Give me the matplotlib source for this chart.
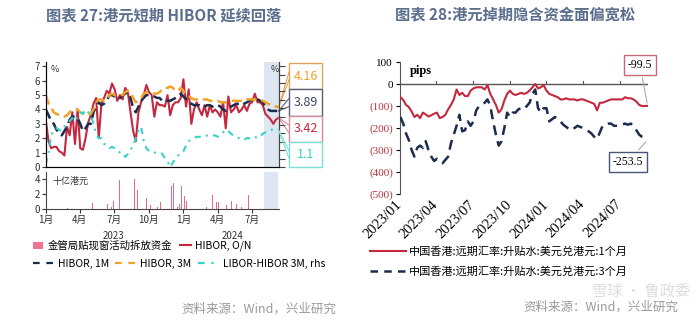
import numpy as np
import pandas as pd
import matplotlib
matplotlib.use('Agg')
import matplotlib.pyplot as plt
from matplotlib.patches import Rectangle
from matplotlib.lines import Line2D

plt.rcParams['font.family'] = ['Noto Sans CJK SC', 'DejaVu Sans']

# ---- 图表27 数据 (周度, 2023-01-02 起) ----
hibor_on = [3.2, 1.8, 1.3, 1.4, 1.4, 1.1, 1.0, 0.8, 2.8, 2.2,
            3.8, 1.6, 4.0, 1.3, 1.2, 2.0, 3.1, 3.6, 4.4, 4.8,
            2.0, 4.4, 4.8, 5.3, 5.1, 5.8, 5.4, 4.6, 5.0, 4.7,
            5.5, 5.2, 3.8, 2.5, 1.8, 3.8, 4.5, 5.0, 5.7, 5.2,
            5.0, 3.5, 4.5, 4.3, 4.3, 4.2, 5.0, 3.6, 4.3, 4.5,
            4.5, 4.8, 6.1, 4.2, 5.4, 3.0, 4.0, 4.5, 4.0, 3.6,
            4.3, 3.5, 4.3, 3.8, 4.0, 3.8, 3.5, 4.5, 2.7, 4.9,
            3.8, 4.0, 4.3, 3.8, 4.0, 4.3, 3.9, 4.4, 4.5, 5.1,
            4.5, 4.5, 4.3, 3.7, 3.5, 3.3, 3.0, 3.3, 3.42]
hibor_1m = [4.0, 3.6, 3.2, 3.0, 2.6, 2.3, 2.2, 2.5, 2.8, 3.3,
            3.5, 3.5, 3.4, 3.0, 2.5, 2.7, 3.0, 3.0, 3.8, 4.2,
            4.5, 4.3, 4.4, 4.6, 5.0, 5.0, 4.9, 4.9, 4.8, 5.0,
            5.1, 5.2, 4.8, 4.1, 3.8, 4.2, 4.6, 4.8, 5.0, 5.0,
            4.9, 4.9, 4.8, 4.8, 4.6, 4.6, 4.6, 4.6, 4.7, 4.8,
            4.9, 5.1, 4.9, 4.7, 4.5, 4.4, 4.3, 4.3, 4.3, 4.2,
            4.2, 4.3, 4.3, 4.2, 4.3, 4.3, 4.2, 4.0, 3.9, 4.1,
            4.2, 4.3, 4.4, 4.4, 4.3, 4.4, 4.5, 4.6, 4.7, 4.7,
            4.7, 4.6, 4.5, 4.2, 4.0, 3.9, 3.9, 3.9, 3.89]
hibor_3m = [5.0, 4.4, 4.1, 3.8, 3.7, 3.6, 3.5, 3.5, 3.6, 3.8,
            4.0, 4.0, 4.0, 3.8, 3.7, 3.6, 3.6, 3.7, 4.0, 4.5,
            4.7, 4.7, 4.6, 4.7, 5.0, 5.1, 5.0, 5.0, 5.0, 5.0,
            5.2, 5.3, 5.2, 4.8, 4.5, 4.6, 4.8, 5.1, 5.2, 5.2,
            5.2, 5.1, 5.1, 5.2, 5.4, 5.5, 5.5, 5.6, 5.5, 5.3,
            5.3, 5.5, 5.3, 5.0, 4.9, 4.8, 4.7, 4.7, 4.7, 4.7,
            4.7, 4.7, 4.6, 4.6, 4.6, 4.6, 4.5, 4.5, 4.5, 4.5,
            4.6, 4.6, 4.6, 4.6, 4.6, 4.6, 4.7, 4.7, 4.7, 4.7,
            4.7, 4.7, 4.6, 4.5, 4.4, 4.3, 4.3, 4.2, 4.16]
libor_hibor = [0.09, 0.43, 0.94, 1.11, 1.16, 1.11, 1.07, 1.20, 1.29, 1.37,
               1.46, 1.37, 1.50, 1.63, 1.59, 1.71, 1.63, 1.54, 1.29, 0.99,
               0.86, 0.86, 0.69, 0.64, 0.56, 0.60, 0.56, 0.51, 0.43, 0.43,
               0.30, 0.39, 0.51, 0.64, 0.86, 1.07, 1.20, 0.77, 0.56, 0.47,
               0.47, 0.43, 0.43, 0.43, 0.39, 0.26, 0.17, 0.00, 0.13, 0.26,
               0.34, 0.43, 0.47, 0.64, 0.77, 0.81, 0.86, 0.90, 0.90, 0.90,
               0.90, 0.94, 0.94, 0.94, 0.94, 0.90, 0.94, 1.03, 1.11, 1.07,
               0.99, 0.94, 0.90, 0.86, 0.86, 0.81, 0.86, 0.86, 0.86, 0.90,
               0.86, 0.90, 0.99, 1.03, 1.07, 1.11, 1.11, 1.09, 1.10]
weeks = pd.date_range('2023-01-02', periods=len(hibor_on), freq='7D')

# 金管局贴现窗拆放资金 (十亿港元)
dw_dates = pd.to_datetime([
    '2023-02-16', '2023-03-01', '2023-04-26', '2023-05-06', '2023-05-28',
    '2023-06-14', '2023-06-24', '2023-06-30', '2023-07-04', '2023-07-16',
    '2023-07-28', '2023-08-24', '2023-09-02', '2023-09-25', '2023-10-05',
    '2023-10-25', '2023-11-01', '2023-11-21', '2023-11-30', '2023-12-06',
    '2023-12-16', '2023-12-22', '2023-12-27', '2024-01-03', '2024-01-10',
    '2024-01-29', '2024-03-02', '2024-03-18', '2024-03-29', '2024-04-03',
    '2024-04-25', '2024-05-08', '2024-05-14', '2024-05-21', '2024-05-27',
    '2024-06-02', '2024-06-22', '2024-07-03', '2024-07-22'])
dw_vals = [0.1, 0.1, 0.6, 0.8, 3.8, 0.6, 0.3, 1.0, 3.2, 3.9,
           0.8, 4.0, 2.5, 1.4, 0.5, 0.2, 0.9, 0.9, 3.0, 3.5,
           0.3, 0.7, 3.0, 1.7, 1.0, 2.1, 0.3, 1.9, 0.9, 0.9,
           0.5, 1.0, 1.0, 0.7, 0.7, 0.3, 1.9, 0.8, 1.8]

# ---- 图表28 数据 (pips) ----
swap_1m = [-60, -72, -95, -105, -125, -150, -140, -155, -130, -138,
           -148, -142, -135, -130, -155, -150, -140, -115, -95, -70,
           -25, -50, -40, -55, -55, -30, -20, -15, -15, -15,
           -25, -5, -45, -70, -95, -130, -115, -75, -45, -30,
           -45, -50, -45, -40, -45, -40, -30, -15, 0, -20,
           -15, -5, -30, -45, -50, -55, -60, -70, -70, -65,
           -70, -70, -70, -75, -70, -70, -75, -80, -85, -90,
           -120, -85, -85, -80, -75, -70, -70, -70, -70, -70,
           -60, -65, -65, -70, -80, -95, -100, -100, -99.5]
swap_3m = [-150, -180, -225, -255, -300, -330, -290, -280, -290, -260,
           -300, -330, -350, -340, -350, -360, -345, -330, -270, -230,
           -190, -140, -215, -210, -170, -190, -170, -120, -100, -95,
           -85, -70, -100, -170, -230, -280, -260, -200, -130, -150,
           -130, -130, -115, -110, -115, -100, -85, -45, -25, -110,
           -130, -110, -110, -170, -160, -150, -160, -170, -185, -195,
           -205, -210, -200, -190, -195, -200, -205, -215, -225, -240,
           -250, -220, -190, -185, -180, -180, -190, -190, -190, -185,
           -180, -185, -180, -190, -210, -230, -240, -245, -253.5]

quarter_ticks = pd.to_datetime(['2023-01-01', '2023-04-01', '2023-07-01', '2023-10-01',
                                '2024-01-01', '2024-04-01', '2024-07-01'])
month_labels = ['1月', '4月', '7月', '10月', '1月', '4月', '7月']
swap_labels = ['2023/01', '2023/04', '2023/07', '2023/10', '2024/01', '2024/04', '2024/07']

c_on, c_1m, c_3m, c_lh = '#c4283f', '#1c2b4e', '#f2a227', '#33d3c9'
c_bar = '#e8698a'
shade = '#dde6f1'
xmin, xmax = pd.Timestamp('2023-01-01'), pd.Timestamp('2024-09-10')

fig = plt.figure(figsize=(7, 3.26), dpi=100)
W, H = 700, 326

def ax_rect(x0, y0, x1, y1):
    return [x0 / W, 1 - y1 / H, (x1 - x0) / W, (y1 - y0) / H]

# 标题
title_c = '#5b6e8d'
fig.text(164 / W, 1 - 15 / H, '图表 27:港元短期 HIBOR 延续回落', ha='center', va='center',
         fontsize=11, color=title_c, fontweight='bold')
fig.text(515 / W, 1 - 15 / H, '图表 28:港元掉期隐含资金面偏宽松', ha='center', va='center',
         fontsize=11, color=title_c, fontweight='bold')

# ---- 左上: HIBOR ----
ax1 = fig.add_axes(ax_rect(45.5, 62, 279, 167))
ax1.axvspan(pd.Timestamp('2024-08-01'), xmax, color=shade, zorder=0, lw=0)
ax1.plot(weeks, hibor_on, color=c_on, lw=1.5, zorder=3)
ax1.plot(weeks, hibor_1m, color=c_1m, lw=1.8, dashes=(4, 2), zorder=4)
ax1.plot(weeks, hibor_3m, color=c_3m, lw=1.8, dashes=(4, 2), zorder=4)
ax1.set_ylim(0, 7.3)
ax1.set_yticks(range(0, 8))
ax1.set_xlim(xmin, xmax)
ax1.set_xticks(quarter_ticks)
ax1.tick_params(axis='x', length=0, labelbottom=False)
ax1.tick_params(axis='y', labelsize=7, length=3, pad=1, colors='#333333')
ax1.spines['top'].set_visible(False)
for s in ['left', 'bottom', 'right']:
    ax1.spines[s].set_color('#444444')
ax1.text(0.02, 0.97, '%', transform=ax1.transAxes, fontsize=6.5, va='top', color='#333333')
ax1.text(0.965, 0.97, '%', transform=ax1.transAxes, fontsize=6.5, va='top', color='#333333')

axr = ax1.twinx()
axr.plot(weeks, libor_hibor, color=c_lh, lw=1.5, dashes=(3, 2.5, 1, 2.5), zorder=2)
axr.set_ylim(0, 3 * 7.3 / 7)
axr.set_yticks(np.arange(0, 3.01, 0.25))
axr.set_yticklabels([])
axr.tick_params(axis='y', length=4, color='#444444')
axr.spines['top'].set_visible(False)
axr.spines['right'].set_color('#444444')

# 右侧数值框
boxes = [('4.16', c_3m, '#e0a35a', 63, 26, ax1, hibor_3m[-1]),
         ('3.89', '#3b4662', '#5a6078', 89, 27, ax1, hibor_1m[-1]),
         ('3.42', c_on, '#d98a98', 116, 26, ax1, hibor_on[-1]),
         ('1.1', c_lh, '#7fe0d8', 142, 25, axr, libor_hibor[-1])]
for txt, col, edge, top, h, a, yd in boxes:
    fig.add_artist(Rectangle((289 / W, 1 - (top + h) / H), 33 / W, h / H,
                             transform=fig.transFigure, facecolor='white', edgecolor=edge, lw=1))
    fig.text(305.5 / W, 1 - (top + h / 2) / H, txt, ha='center', va='center', fontsize=9, color=col)
    for frac in (0.35, 0.65):
        a.annotate('', xy=(weeks[-1], yd), xytext=(289, H - (top + h * frac)), textcoords='figure pixels',
                   arrowprops=dict(arrowstyle='-', color=edge, lw=0.8, shrinkA=0, shrinkB=0),
                   annotation_clip=False)

# ---- 左下: 贴现窗 ----
ax2 = fig.add_axes(ax_rect(45.5, 172, 279, 209))
ax2.axvspan(pd.Timestamp('2024-08-01'), pd.Timestamp('2024-09-08'), color=shade, zorder=0, lw=0)
ax2.bar(dw_dates, dw_vals, width=2.0, color=c_bar, zorder=2)
ax2.set_ylim(0, 4.9)
ax2.set_yticks([0, 2, 4])
ax2.set_xlim(xmin, xmax)
ax2.set_xticks(quarter_ticks)
ax2.set_xticklabels(month_labels)
ax2.tick_params(axis='x', labelsize=7, length=3, pad=1, colors='#333333')
ax2.tick_params(axis='y', labelsize=7, length=3, pad=1, colors='#333333')
ax2.spines['top'].set_visible(False)
ax2.spines['right'].set_visible(False)
for s in ['left', 'bottom']:
    ax2.spines[s].set_color('#444444')
ax2.text(0.03, 0.88, '十亿港元', transform=ax2.transAxes, fontsize=6.5, va='top', color='#333333')
ytrans = ax2.get_xaxis_transform()
ax2.text(pd.Timestamp('2023-07-01'), -0.72, '2023', transform=ytrans, ha='center', va='center',
         fontsize=7, color='#333333')
ax2.text(pd.Timestamp('2024-05-10'), -0.72, '2024', transform=ytrans, ha='center', va='center',
         fontsize=7, color='#333333')

# 左图图例
h_bar = Rectangle((0, 0), 1, 1, facecolor='#f07592', edgecolor='none')
h_on = Line2D([], [], color=c_on, lw=1.5)
fig.legend([h_bar, h_on], ['金管局贴现窗活动拆放资金', 'HIBOR, O/N'], ncol=2,
           loc='center left', bbox_to_anchor=(33 / W, 1 - 246 / H), frameon=False,
           fontsize=7.5, handlelength=1.0, handletextpad=0.4, columnspacing=0.8,
           borderaxespad=0, borderpad=0)
h_1m = Line2D([], [], color=c_1m, lw=1.6, dashes=(3, 3))
h_3m = Line2D([], [], color=c_3m, lw=1.6, dashes=(3, 3))
h_lh = Line2D([], [], color=c_lh, lw=1.6, dashes=(3, 3, 1, 3))
fig.legend([h_1m, h_3m, h_lh], ['HIBOR, 1M', 'HIBOR, 3M', 'LIBOR-HIBOR 3M, rhs'], ncol=3,
           loc='center left', bbox_to_anchor=(33 / W, 1 - 264 / H), frameon=False,
           fontsize=7.5, handlelength=2.0, handletextpad=0.4, columnspacing=0.6,
           borderaxespad=0, borderpad=0)

fig.text(336 / W, 1 - 309 / H, '资料来源：Wind，兴业研究', ha='right', va='center',
         fontsize=9, color='#9a9a9a')

# ---- 右图: 掉期点 ----
serif = 'Liberation Serif'
ax3 = fig.add_axes(ax_rect(400, 62, 648, 194))
ax3.plot(weeks, swap_1m, color=c_on, lw=1.5, zorder=3)
ax3.plot(weeks, swap_3m, color=c_1m, lw=1.8, dashes=(4, 2.5), zorder=3)
ax3.set_ylim(-500, 100)
ax3.set_yticks(range(-500, 101, 100))
ax3.set_yticklabels(['(500)', '(400)', '(300)', '(200)', '(100)', '0', '100'],
                    fontfamily=serif, fontsize=8)
for lab in ax3.get_yticklabels():
    if lab.get_text().startswith('('):
        lab.set_color('#b8323c')
ax3.set_xlim(xmin, xmax)
ax3.set_xticks(quarter_ticks)
ax3.set_xticklabels(swap_labels, rotation=45, ha='right', va='center', rotation_mode='anchor',
                    fontfamily=serif, fontsize=10.5)
ax3.tick_params(axis='x', length=0, pad=6)
ax3.tick_params(axis='y', length=3, pad=2)
for s in ['top', 'right', 'bottom']:
    ax3.spines[s].set_visible(False)
ax3.spines['left'].set_color('#555555')
ax3.axhline(0, color='#555555', lw=1, zorder=2)
zero_frac = 500 / 600
for t in quarter_ticks[1:]:
    ax3.axvline(t, ymin=zero_frac, ymax=zero_frac + 0.025, color='#555555', lw=0.8)
ax3.text(0.04, 0.98, 'pips', transform=ax3.transAxes, fontfamily=serif, fontsize=9,
         fontweight='bold', va='top')
ax3.annotate('-99.5', xy=(weeks[-1], swap_1m[-1]), xytext=(640, H - 65), textcoords='figure pixels',
             ha='center', va='center', fontfamily=serif, fontsize=8.5,
             bbox=dict(boxstyle='square,pad=0.3', fc='white', ec='#c76a78', lw=1),
             arrowprops=dict(arrowstyle='-', color='#aaaaaa', lw=0.8), annotation_clip=False)
ax3.annotate('-253.5', xy=(weeks[-1], swap_3m[-1]), xytext=(628, H - 162), textcoords='figure pixels',
             ha='center', va='center', fontfamily=serif, fontsize=8.5,
             bbox=dict(boxstyle='square,pad=0.3', fc='white', ec='#4a5578', lw=1),
             arrowprops=dict(arrowstyle='-', color='#aaaaaa', lw=0.8), annotation_clip=False)

h_s1 = Line2D([], [], color=c_on, lw=1.5)
h_s3 = Line2D([], [], color=c_1m, lw=1.8, dashes=(3, 2.5))
fig.legend([h_s1, h_s3], ['中国香港:远期汇率:升贴水:美元兑港元:1个月',
                          '中国香港:远期汇率:升贴水:美元兑港元:3个月'],
           loc='upper left', bbox_to_anchor=(370 / W, 1 - 246 / H), frameon=False,
           fontsize=8, handlelength=3.2, handletextpad=0.3, labelspacing=0.9,
           borderaxespad=0, borderpad=0)

fig.text(678 / W, 1 - 307 / H, '资料来源：Wind，兴业研究', ha='right', va='center',
         fontsize=9, color='#9a9a9a')
fig.text(690 / W, 1 - 291 / H, '雪球 · 鲁政委', ha='right', va='center',
         fontsize=11, color='#bbbbbb', alpha=0.5)

fig.savefig('out.png', dpi=100)
